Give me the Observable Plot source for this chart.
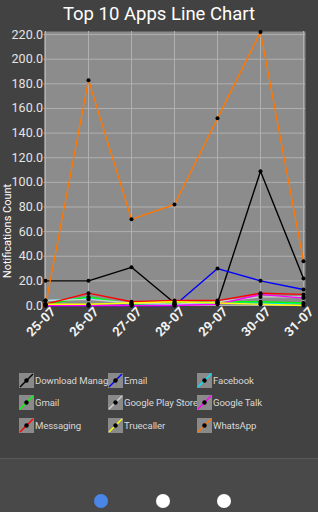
<!DOCTYPE html>
<html>
<head>
<meta charset="utf-8">
<script src="https://cdn.jsdelivr.net/npm/d3@7"></script>
<script src="https://cdn.jsdelivr.net/npm/@observablehq/plot@0.6"></script>
<style>
  html, body { margin: 0; padding: 0; }
  body { width: 318px; height: 512px; overflow: hidden; background: #424242; font-family: Roboto, "Noto Sans", sans-serif; position: relative; }
  #title { position: absolute; left: 0; top: 2px; width: 318px; text-align: center; color: #fff; font-size: 18.5px; line-height: 24px; }
  #ytitle { position: absolute; left: 8px; top: 231px; transform: translate(-50%, -50%) rotate(-90deg); color: #fff; font-size: 11px; white-space: nowrap; line-height: 12px; }
  #chart { position: absolute; left: 0; top: 0; }
  #legend { position: absolute; left: 19px; top: 372px; width: 290px; }
  .item { position: absolute; height: 16px; white-space: nowrap; display: flex; align-items: center; }
  .item svg { flex: none; }
  .item span { color: #d8d8d8; font-size: 9.6px; margin-left: 1px; letter-spacing: -0.1px; }
  #bottom { position: absolute; left: 0; top: 458px; width: 318px; height: 54px; background: #494949; border-top: 1px solid #5a5a5a; }
  .pdot { position: absolute; top: 35px; width: 14px; height: 14px; border-radius: 50%; }
</style>
</head>
<body>
<div id="chart"></div>
<div id="title">Top 10 Apps Line Chart</div>
<div id="ytitle">Notifications Count</div>
<div id="legend"></div>
<div id="bottom">
  <div class="pdot" style="left:94px;background:#4a86e8"></div>
  <div class="pdot" style="left:156px;background:#ffffff"></div>
  <div class="pdot" style="left:217px;background:#ffffff"></div>
</div>
<script>
const dates = ["25-07","26-07","27-07","28-07","29-07","30-07","31-07"];
const apps = ["Download Manager","Email","Facebook","Gmail","Google Play Store","Google Talk","Messaging","Truecaller","WhatsApp"];
const colors = ["#000000","#0000ff","#00e5ff","#00ff00","#d0d0d0","#ff00ff","#ff0000","#ffff00","#ff7700"];
const yTicks = [0,20,40,60,80,100,120,140,160,180,200,220];

const downloadManager = [20,20,31,2,2,109,22];
const email = [0,0,0,0,30,20,13];
const facebook = [4,6,1,1,2,2,1.5];
const gmail = [1,7,1,2,3,3,2];
const playStore = [4,5,2,1,3,7,7];
const googleTalk = [0,0,0,0,1,9,6];
const messaging = [1,10,3,4,4,10,9];
const truecaller = [1,1,2,3,2,1,0];
const whatsApp = [0,183,70,82,152,222,36];

const series = [downloadManager,email,facebook,gmail,playStore,googleTalk,messaging,truecaller,whatsApp];
const rows = [];
series.forEach((vals, i) => vals.forEach((v, j) => rows.push({app: apps[i], date: dates[j], value: v})));

const chart = Plot.plot({
  width: 318,
  height: 350,
  marginLeft: 43.5,
  marginRight: 13,
  marginTop: 31,
  marginBottom: 45,
  style: {fontFamily: "Roboto, 'Noto Sans', sans-serif", background: "transparent", overflow: "visible"},
  x: {type: "point", domain: dates, padding: 0, axis: null},
  y: {domain: [0, 222.5], axis: null},
  color: {domain: apps, range: colors},
  marks: [
    Plot.frame({fill: "#8c8c8c", stroke: null}),
    Plot.gridX(dates, {stroke: "#b0b0b0", strokeOpacity: 1}),
    Plot.gridY(yTicks, {stroke: "#b0b0b0", strokeOpacity: 1}),
    Plot.axisY(yTicks, {label: null, tickSize: 0, tickPadding: 1, tickFormat: d => d.toFixed(1), fontSize: 12.5, fill: "#e4e4e4"}),
    Plot.text(dates, {x: d => d, frameAnchor: "bottom", rotate: -45, textAnchor: "end", lineAnchor: "middle", dx: 8, dy: 4, fontSize: 13, fill: "#f2f2f2", fontWeight: "bold"}),
    Plot.line(rows, {x: "date", y: "value", z: "app", stroke: "app", strokeWidth: 1.4}),
    Plot.dot(rows, {x: "date", y: "value", r: 2, fill: "#000", stroke: null})
  ]
});
document.getElementById("chart").appendChild(chart);

const legend = document.getElementById("legend");
apps.forEach((a, i) => {
  const col = i % 3, row = Math.floor(i / 3);
  const d = document.createElement("div");
  d.className = "item";
  d.style.left = (col * 89) + "px";
  d.style.top = (row * 22.5) + "px";
  d.style.zIndex = String(i);
  d.innerHTML = `<svg width="15" height="15"><rect x="0" y="0" width="15" height="15" fill="#8a8a8a"/><line x1="1" y1="14" x2="14" y2="1" stroke="${colors[i]}" stroke-width="1.5"/><circle cx="7.5" cy="7.5" r="2.2" fill="#000"/></svg><span>${a}</span>`;
  legend.appendChild(d);
});
</script>
</body>
</html>
